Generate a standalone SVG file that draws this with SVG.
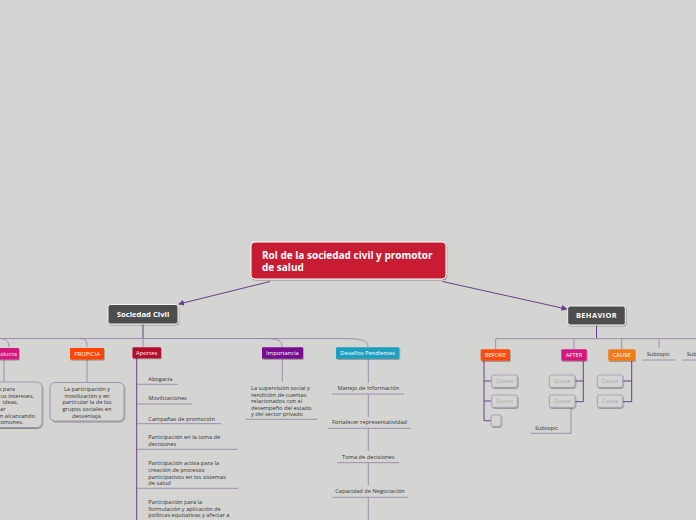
<svg xmlns="http://www.w3.org/2000/svg" width="696" height="520" viewBox="0 0 696 520">
<defs>
<filter id="sh" x="-20%" y="-20%" width="140%" height="160%">
<feDropShadow dx="0.6" dy="1" stdDeviation="0.7" flood-color="#000" flood-opacity="0.35"/>
</filter>
<marker id="ah" markerWidth="6" markerHeight="6" refX="5" refY="3" orient="auto" markerUnits="userSpaceOnUse">
<path d="M0,0 L6,3 L0,6 z" fill="#6a3d8c"/>
</marker>
<style>
text{font-family:"Open Sans","Liberation Sans",sans-serif}
.t{font-size:5.7px;fill:#333}
.w{font-size:5.8px;fill:#fff}
.b{font-weight:bold;fill:#fff}
.c{fill:none;stroke:#9a82ad;stroke-width:0.9}
.d{fill:none;stroke:#6a3d8c;stroke-width:1}
.q{fill:#d4d5d2;stroke:#a89bb5;stroke-width:0.9}
.qt{font-size:5.8px;fill:#a8a8a8}
.box{fill:#d4d5d2;stroke:#a394b3;stroke-width:1}
</style>
</defs>
<rect width="696" height="520" fill="#d4d5d2"/>

<g id="connectors">
<path class="d" d="M270,281.5 L179,304" marker-end="url(#ah)"/>
<path class="d" d="M442.5,281.5 L566.5,309" marker-end="url(#ah)"/>
<path class="d" d="M143,324 V338"/>
<path class="c" d="M0,338.5 H143"/>
<path class="c" d="M143,338.5 V347"/>
<path class="c" d="M80,338.5 C86,338.5 87,341 87,347"/>
<path class="c" d="M0,338.5 C6,338.5 9,341 9,347"/>
<path class="c" d="M143,338.5 H262 C278,338.5 282,340 282,347"/>
<path class="c" d="M143,338.5 H340 C362,338.5 368,340 368,347"/>
<path class="c" d="M4,359 V382"/>
<path class="c" d="M87,359 V382"/>
<path class="d" d="M136.7,358 V520"/>
<path class="c" d="M137,384.3 H177.7"/>
<path class="c" d="M137,404 H191.7"/>
<path class="c" d="M137,423.7 H221"/>
<path class="c" d="M137,449.3 H237.7"/>
<path class="c" d="M137,488.3 H238.3"/>
<path class="c" d="M282.3,359 V381.5"/>
<path class="c" d="M246,419.3 H317.7"/>
<path class="c" d="M368.3,359 V383"/>
<path class="c" d="M332,394 H404"/>
<path class="c" d="M368.3,394 V417"/>
<path class="c" d="M328.3,428.3 H411"/>
<path class="c" d="M368.3,428.3 V451"/>
<path class="c" d="M337,462.7 H399.3"/>
<path class="c" d="M368.3,462.7 V485"/>
<path class="c" d="M332.3,497.3 H407.7"/>
<path class="c" d="M368.3,497.3 V520"/>
<path class="d" d="M596.5,325 V338.7"/>
<path class="c" d="M495.7,338.7 H696"/>
<path class="c" d="M495.7,338.7 V349"/>
<path class="c" d="M574,338.7 V349"/>
<path class="c" d="M621.7,338.7 V349"/>
<path class="c" d="M659,338.7 V348"/>
<path class="c" d="M642.3,360 H675"/>
<path class="c" d="M682.3,360 H696"/>
<path class="d" d="M484,361 V420.7 H491"/>
<path class="d" d="M484,381 H491.7 M484,401 H491.7"/>
<path class="d" d="M583.3,361 V401.7 H575 M583.3,381 H575"/>
<path class="c" d="M571,407.3 V433.3 H530.7"/>
<path class="d" d="M631.7,361 V401.7 H622.7 M631.7,381 H622.7"/>
</g>

<g id="central">
<rect x="251" y="242" width="195" height="37" rx="4" fill="#c81f32" stroke="#fff" stroke-width="1" filter="url(#sh)"/>
<text class="b" x="262" y="259.3" font-size="10">Rol de la sociedad civil y promotor</text>
<text class="b" x="262" y="270.6" font-size="10">de salud</text>
</g>

<g id="sociedad-civil">
<rect x="108" y="304.5" width="70" height="19.5" rx="2.5" fill="#4e4e4e" stroke="#fff" stroke-width="0.9" filter="url(#sh)"/>
<text class="b" x="143" y="317" font-size="7.7" text-anchor="middle">Sociedad Civil</text>
</g>

<g id="involucra">
<rect x="-20" y="348" width="39" height="11.5" rx="1" fill="#d6187f" filter="url(#sh)"/>
<text class="w" x="17" y="355.8" text-anchor="end">olucra</text>
</g>
<g id="involucra-text">
<rect x="-60" y="382" width="102" height="45.5" rx="5" class="box" filter="url(#sh)"/>
<text class="t" text-anchor="end"><tspan x="15" y="390.8">s para</tspan><tspan x="34" y="397.5">us intereses,</tspan><tspan x="18" y="404.2">ideas,</tspan><tspan x="5.5" y="410.9">ar</tspan><tspan x="35" y="417.6">n alcanzando</tspan><tspan x="23.5" y="424.3">comunes.</tspan></text>
</g>

<g id="propicia">
<rect x="70" y="348" width="34" height="11.5" rx="1" fill="#ff4506" filter="url(#sh)"/>
<text class="w" x="87" y="355.8" text-anchor="middle">PROPICIA</text>
</g>
<g id="propicia-text">
<rect x="50" y="382.5" width="74" height="38.5" rx="5" class="box" filter="url(#sh)"/>
<text class="t" text-anchor="middle"><tspan x="87" y="391">La participación y</tspan><tspan x="87" y="397.7">movilización y en</tspan><tspan x="87" y="404.4">particular la de los</tspan><tspan x="87" y="411.1">grupos sociales en</tspan><tspan x="87" y="417.8">desventaja.</tspan></text>
</g>

<g id="aportes">
<rect x="132.5" y="347.3" width="28.5" height="11" rx="1" fill="#b3102e" filter="url(#sh)"/>
<text class="w" x="146.7" y="354.9" text-anchor="middle">Aportes</text>
</g>
<g id="aportes-items">
<text class="t" x="148.3" y="381.3">Abogacía</text>
<text class="t" x="148.3" y="400">Movilizaciones</text>
<text class="t" x="148.3" y="420.5">Campañas de promoción</text>
<text class="t"><tspan x="148.3" y="439.2">Participación en la toma de</tspan><tspan x="148.3" y="445.9">decisiones</tspan></text>
<text class="t"><tspan x="148.3" y="465.2">Participación activa para la</tspan><tspan x="148.3" y="471.9">creación de procesos</tspan><tspan x="148.3" y="478.6">participativos en los sistemas</tspan><tspan x="148.3" y="485.3">de salud</tspan></text>
<text class="t"><tspan x="148.3" y="503.9">Participación para la</tspan><tspan x="148.3" y="510.6">formulación y aplicación de</tspan><tspan x="148.3" y="517.3">políticas equitativas y afectar a</tspan></text>
</g>

<g id="importancia">
<rect x="262" y="347.3" width="41" height="11.5" rx="1" fill="#790f8f" filter="url(#sh)"/>
<text class="w" x="282.5" y="355.1" text-anchor="middle">Importancia</text>
</g>
<g id="importancia-text">
<text class="t"><tspan x="251" y="390.2">La supervisión social y</tspan><tspan x="251" y="396.7">rendición de cuentas</tspan><tspan x="251" y="403.2">relacionados con el</tspan><tspan x="251" y="409.5">desempeño del estado</tspan><tspan x="251" y="416">y del sector privado</tspan></text>
</g>

<g id="desafios">
<rect x="336" y="347.3" width="63.3" height="11.5" rx="1" fill="#1b9fc1" filter="url(#sh)"/>
<text class="w" x="367.7" y="355.1" text-anchor="middle">Desafíos Pendientes</text>
</g>
<g id="desafios-items">
<text class="t" x="368.3" y="390" text-anchor="middle">Manejo de Información</text>
<text class="t" x="369.5" y="424" text-anchor="middle">Fortalecer representatividad</text>
<text class="t" x="368.3" y="459" text-anchor="middle">Toma de decisiones</text>
<text class="t" x="370" y="493" text-anchor="middle">Capacidad de Negociación</text>
</g>

<g id="behavior">
<rect x="567.7" y="306" width="57.6" height="19" rx="2.5" fill="#4e4e4e" stroke="#fff" stroke-width="0.9" filter="url(#sh)"/>
<text class="b" x="596.5" y="318.4" font-size="7.4" text-anchor="middle" letter-spacing="0.4">BEHAVIOR</text>
</g>
<g id="before">
<rect x="480.7" y="349.3" width="29.3" height="11.4" rx="1" fill="#ff4a0c" filter="url(#sh)"/>
<text class="w" x="495.3" y="357.1" text-anchor="middle">BEFORE</text>
</g>
<g id="after">
<rect x="561.3" y="349.3" width="25.4" height="11.4" rx="1" fill="#d6177f" filter="url(#sh)"/>
<text class="w" x="574" y="357.1" text-anchor="middle">AFTER</text>
</g>
<g id="cause">
<rect x="608.3" y="349.3" width="26.7" height="11.4" rx="1" fill="#f47b17" filter="url(#sh)"/>
<text class="w" x="621.7" y="357.1" text-anchor="middle">CAUSE</text>
</g>
<g id="subtopic-1"><text class="t" x="646.7" y="356.3">Subtopic</text></g>
<g id="subtopic-2"><text class="t" x="686.7" y="356.3">Subtopic</text></g>
<g id="before-quote-1"><rect class="q" x="491.7" y="375" width="25.6" height="12.3" rx="2" filter="url(#sh)"/><text class="qt" x="504.5" y="383.2" text-anchor="middle">Quote</text></g>
<g id="before-quote-2"><rect class="q" x="491.7" y="395" width="25.6" height="12.3" rx="2" filter="url(#sh)"/><text class="qt" x="504.5" y="403.2" text-anchor="middle">Quote</text></g>
<g id="before-empty"><rect class="q" x="491" y="415" width="10" height="11.3" rx="2" filter="url(#sh)"/></g>
<g id="after-quote-1"><rect class="q" x="549.3" y="375" width="25.7" height="12.3" rx="2" filter="url(#sh)"/><text class="qt" x="562.2" y="383.2" text-anchor="middle">Quote</text></g>
<g id="after-quote-2"><rect class="q" x="549.3" y="395" width="25.7" height="12.3" rx="2" filter="url(#sh)"/><text class="qt" x="562.2" y="403.2" text-anchor="middle">Quote</text></g>
<g id="after-subtopic"><text class="t" x="535" y="429.8">Subtopic</text></g>
<g id="cause-1"><rect class="q" x="597.3" y="375" width="25.4" height="12.3" rx="2" filter="url(#sh)"/><text class="qt" x="610" y="383.2" text-anchor="middle">Cause</text></g>
<g id="cause-2"><rect class="q" x="597.3" y="395" width="25.4" height="12.3" rx="2" filter="url(#sh)"/><text class="qt" x="610" y="403.2" text-anchor="middle">Cause</text></g>
</svg>
